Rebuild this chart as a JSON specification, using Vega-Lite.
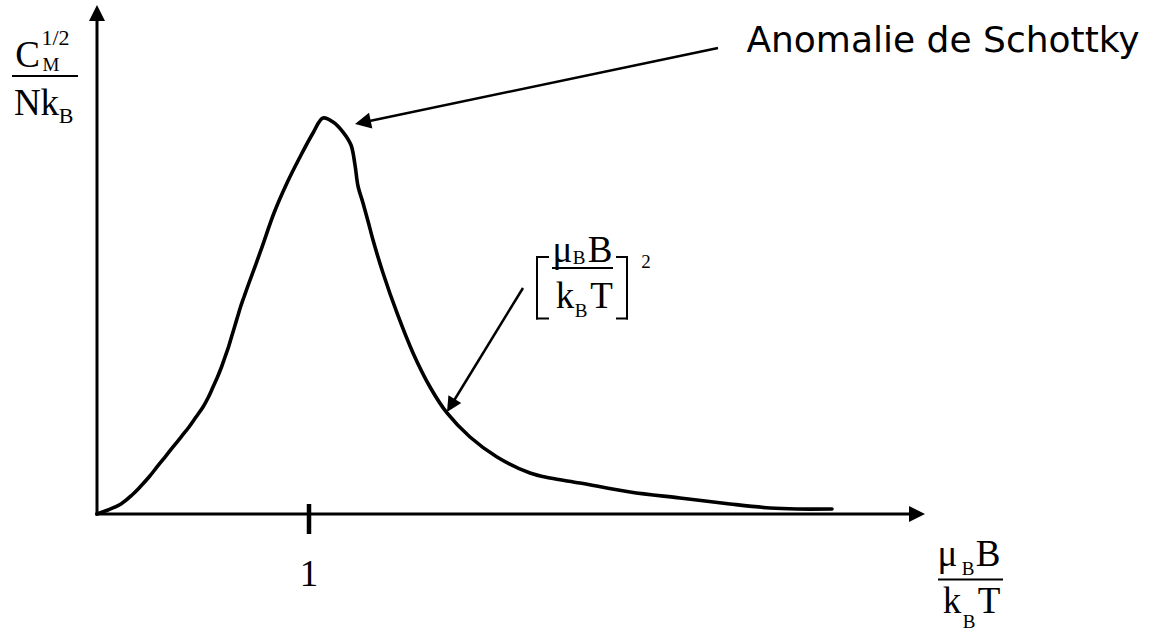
{
  "$schema": "https://vega.github.io/schema/vega-lite/v6.json",
  "width": 1153,
  "height": 631,
  "padding": 0,
  "autosize": {"type": "none"},
  "background": "white",
  "config": {"view": {"stroke": null}},
  "datasets": {
    "curve": [
      {"x": 0, "y": 0}, {"x": 0.0519, "y": 0.0101}, {"x": 0.1132, "y": 0.0253}, {"x": 0.1651, "y": 0.048},
      {"x": 0.2028, "y": 0.0682}, {"x": 0.2453, "y": 0.0934}, {"x": 0.283, "y": 0.1187}, {"x": 0.3208, "y": 0.1439},
      {"x": 0.3585, "y": 0.1692}, {"x": 0.3962, "y": 0.1944}, {"x": 0.434, "y": 0.2197}, {"x": 0.467, "y": 0.2449},
      {"x": 0.5, "y": 0.2702}, {"x": 0.5259, "y": 0.2955}, {"x": 0.5472, "y": 0.3207}, {"x": 0.5684, "y": 0.346},
      {"x": 0.5873, "y": 0.3712}, {"x": 0.6038, "y": 0.3965}, {"x": 0.6203, "y": 0.4217}, {"x": 0.6344, "y": 0.447},
      {"x": 0.6486, "y": 0.4722}, {"x": 0.6627, "y": 0.4975}, {"x": 0.6769, "y": 0.5227}, {"x": 0.6934, "y": 0.548},
      {"x": 0.7099, "y": 0.5732}, {"x": 0.7736, "y": 0.6667}, {"x": 0.8349, "y": 0.7601}, {"x": 0.8962, "y": 0.8359},
      {"x": 0.9575, "y": 0.9015}, {"x": 1.0189, "y": 0.9621}, {"x": 1.066, "y": 1.0}, {"x": 1.1132, "y": 0.9899},
      {"x": 1.1604, "y": 0.9646}, {"x": 1.1981, "y": 0.9318}, {"x": 1.217, "y": 0.8813}, {"x": 1.2311, "y": 0.8283},
      {"x": 1.2547, "y": 0.7854}, {"x": 1.2807, "y": 0.7348}, {"x": 1.3019, "y": 0.6919}, {"x": 1.3491, "y": 0.6086},
      {"x": 1.4151, "y": 0.5076}, {"x": 1.4906, "y": 0.4066}, {"x": 1.5708, "y": 0.3207}, {"x": 1.6509, "y": 0.2551},
      {"x": 1.7594, "y": 0.1944}, {"x": 1.8868, "y": 0.1439}, {"x": 2.0425, "y": 0.1035}, {"x": 2.1368, "y": 0.0909},
      {"x": 2.2783, "y": 0.0783}, {"x": 2.5142, "y": 0.0556}, {"x": 2.75, "y": 0.0404}, {"x": 2.9858, "y": 0.0253},
      {"x": 3.1745, "y": 0.0152}, {"x": 3.3019, "y": 0.0126}, {"x": 3.467, "y": 0.0126}
    ],
    "segments": [
      {"part": "axis", "x": 0, "y": -0.0038, "x2": 0, "y2": 1.2601},
      {"part": "axis", "x": -0.0071, "y": 0, "x2": 3.8585, "y2": 0},
      {"part": "tick", "x": 1, "y": 0.0253, "x2": 1, "y2": -0.0505},
      {"part": "pointer", "x": 2.9292, "y": 1.1768, "x2": 1.2632, "y2": 0.99},
      {"part": "pointer", "x": 2.0094, "y": 0.5707, "x2": 1.6755, "y2": 0.279},
      {"part": "fraction", "x": -0.4009, "y": 1.1061, "x2": -0.0896, "y2": 1.1061},
      {"part": "fraction", "x": 3.967, "y": -0.1654, "x2": 4.2736, "y2": -0.1654},
      {"part": "fraction", "x": 2.1462, "y": 0.6212, "x2": 2.434, "y2": 0.6212},
      {"part": "bracket", "x": 2.0755, "y": 0.649, "x2": 2.0755, "y2": 0.4937},
      {"part": "bracket", "x": 2.0755, "y": 0.649, "x2": 2.1274, "y2": 0.649},
      {"part": "bracket", "x": 2.0755, "y": 0.4937, "x2": 2.1274, "y2": 0.4937},
      {"part": "bracket", "x": 2.5, "y": 0.649, "x2": 2.5, "y2": 0.4937},
      {"part": "bracket", "x": 2.4528, "y": 0.649, "x2": 2.5, "y2": 0.649},
      {"part": "bracket", "x": 2.4528, "y": 0.4937, "x2": 2.5, "y2": 0.4937}
    ],
    "heads": [
      {"name": "yaxis", "x": 0, "y": 1.2854},
      {"name": "xaxis", "x": 3.9057, "y": 0},
      {"name": "schottky", "x": 1.217, "y": 0.9848},
      {"name": "square", "x": 1.6509, "y": 0.2576}
    ],
    "labels": [
      {"role": "main", "label": "C", "x": -0.3278, "y": 1.1288},
      {"role": "main", "label": "Nk", "x": -0.2854, "y": 1.0076},
      {"role": "main", "label": "1", "x": 1, "y": -0.1818},
      {"role": "main", "label": "μ", "x": 4.0118, "y": -0.1313},
      {"role": "main", "label": "B", "x": 4.2028, "y": -0.1313},
      {"role": "main", "label": "k", "x": 4.033, "y": -0.25},
      {"role": "main", "label": "T", "x": 4.2075, "y": -0.25},
      {"role": "main", "label": "μ", "x": 2.1958, "y": 0.6364},
      {"role": "main", "label": "B", "x": 2.3726, "y": 0.6364},
      {"role": "main", "label": "k", "x": 2.2075, "y": 0.5202},
      {"role": "main", "label": "T", "x": 2.3797, "y": 0.5202},
      {"role": "sub", "label": "1/2", "x": -0.1958, "y": 1.1843},
      {"role": "small", "label": "M", "x": -0.217, "y": 1.1187},
      {"role": "sub", "label": "B", "x": -0.1462, "y": 0.9874},
      {"role": "small", "label": "B", "x": 4.1085, "y": -0.154},
      {"role": "small", "label": "B", "x": 4.1132, "y": -0.2879},
      {"role": "small", "label": "B", "x": 2.2736, "y": 0.6313},
      {"role": "small", "label": "B", "x": 2.283, "y": 0.4975},
      {"role": "small", "label": "2", "x": 2.5896, "y": 0.6212},
      {"role": "title", "label": "Anomalie de Schottky", "x": 3.9906, "y": 1.1667}
    ]
  },
  "encoding": {
    "x": {"field": "x", "type": "quantitative", "axis": null, "scale": {"domain": [-0.457547, 4.981132], "nice": false, "zero": false}},
    "y": {"field": "y", "type": "quantitative", "axis": null, "scale": {"domain": [-0.295455, 1.29798], "nice": false, "zero": false}}
  },
  "layer": [
    {
      "data": {"name": "curve"},
      "mark": {"type": "line", "interpolate": "catmull-rom", "color": "black", "strokeWidth": 3.6, "strokeCap": "round", "strokeJoin": "round"}
    },
    {
      "data": {"name": "segments"},
      "transform": [{"filter": "datum.part === 'axis'"}],
      "mark": {"type": "rule", "color": "black", "strokeWidth": 3},
      "encoding": {"x2": {"field": "x2"}, "y2": {"field": "y2"}}
    },
    {
      "data": {"name": "segments"},
      "transform": [{"filter": "datum.part === 'tick'"}],
      "mark": {"type": "rule", "color": "black", "strokeWidth": 4.5},
      "encoding": {"x2": {"field": "x2"}, "y2": {"field": "y2"}}
    },
    {
      "data": {"name": "segments"},
      "transform": [{"filter": "datum.part === 'pointer'"}],
      "mark": {"type": "rule", "color": "black", "strokeWidth": 2.5},
      "encoding": {"x2": {"field": "x2"}, "y2": {"field": "y2"}}
    },
    {
      "data": {"name": "segments"},
      "transform": [{"filter": "datum.part === 'fraction'"}],
      "mark": {"type": "rule", "color": "black", "strokeWidth": 2.2},
      "encoding": {"x2": {"field": "x2"}, "y2": {"field": "y2"}}
    },
    {
      "data": {"name": "segments"},
      "transform": [{"filter": "datum.part === 'bracket'"}],
      "mark": {"type": "rule", "color": "black", "strokeWidth": 2, "strokeCap": "square"},
      "encoding": {"x2": {"field": "x2"}, "y2": {"field": "y2"}}
    },
    {
      "data": {"name": "heads"},
      "transform": [{"filter": "datum.name === 'yaxis'"}],
      "mark": {"type": "point", "shape": "M0,0L-2,-1L-2,1Z", "filled": true, "color": "black", "opacity": 1, "size": 256, "angle": 270}
    },
    {
      "data": {"name": "heads"},
      "transform": [{"filter": "datum.name === 'xaxis'"}],
      "mark": {"type": "point", "shape": "M0,0L-2,-1L-2,1Z", "filled": true, "color": "black", "opacity": 1, "size": 256, "angle": 0}
    },
    {
      "data": {"name": "heads"},
      "transform": [{"filter": "datum.name === 'schottky'"}],
      "mark": {"type": "point", "shape": "M0,0L-2,-1L-2,1Z", "filled": true, "color": "black", "opacity": 1, "size": 256, "angle": 168}
    },
    {
      "data": {"name": "heads"},
      "transform": [{"filter": "datum.name === 'square'"}],
      "mark": {"type": "point", "shape": "M0,0L-2,-1L-2,1Z", "filled": true, "color": "black", "opacity": 1, "size": 225, "angle": 121.5}
    },
    {
      "data": {"name": "labels"},
      "transform": [{"filter": "datum.role === 'main'"}],
      "mark": {"type": "text", "font": "Liberation Serif", "fontSize": 37, "align": "center", "baseline": "alphabetic", "color": "black"},
      "encoding": {"text": {"field": "label"}}
    },
    {
      "data": {"name": "labels"},
      "transform": [{"filter": "datum.role === 'sub'"}],
      "mark": {"type": "text", "font": "Liberation Serif", "fontSize": 22, "align": "center", "baseline": "alphabetic", "color": "black"},
      "encoding": {"text": {"field": "label"}}
    },
    {
      "data": {"name": "labels"},
      "transform": [{"filter": "datum.role === 'small'"}],
      "mark": {"type": "text", "font": "Liberation Serif", "fontSize": 19, "align": "center", "baseline": "alphabetic", "color": "black"},
      "encoding": {"text": {"field": "label"}}
    },
    {
      "data": {"name": "labels"},
      "transform": [{"filter": "datum.role === 'title'"}],
      "mark": {"type": "text", "font": "DejaVu Sans", "fontSize": 36, "align": "center", "baseline": "alphabetic", "color": "black"},
      "encoding": {"text": {"field": "label"}}
    }
  ]
}
